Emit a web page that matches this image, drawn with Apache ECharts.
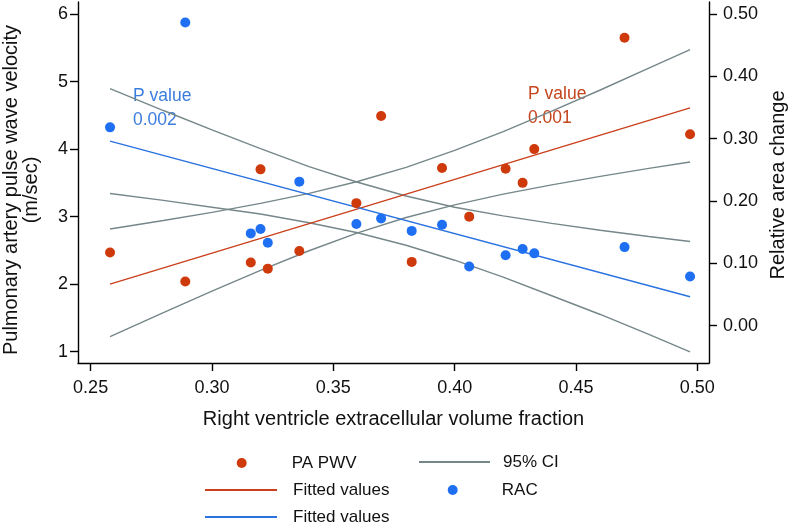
<!DOCTYPE html>
<html>
<head>
<meta charset="utf-8">
<script src="https://cdn.jsdelivr.net/npm/echarts@6/dist/echarts.min.js"></script>
<style>html,body{margin:0;padding:0;background:#fff}#c{width:792px;height:527px}</style>
</head>
<body>
<div id="c"></div>
<script>
// ---- data ----
const ecvFraction = [0.258, 0.289, 0.316, 0.320, 0.323, 0.336, 0.3595, 0.3697, 0.3823, 0.3948, 0.406, 0.421, 0.428, 0.4328, 0.470, 0.497];
const paPwv = [2.47, 2.04, 2.32, 3.70, 2.23, 2.49, 3.20, 4.49, 2.33, 3.72, 3.00, 3.71, 3.50, 4.00, 5.65, 4.22];
const rac = [0.318, 0.486, 0.148, 0.155, 0.133, 0.231, 0.163, 0.172, 0.152, 0.162, 0.095, 0.113, 0.123, 0.116, 0.126, 0.079];

const fitX = [0.258, 0.497];
const pwvFit = [2.00, 4.61];
const racFit = [0.296, 0.0465];

const ciX = [0.258, 0.28, 0.30, 0.32, 0.34, 0.36, 0.38, 0.40, 0.42, 0.44, 0.46, 0.48, 0.497];
const pwvCiUpper = [2.817, 2.943, 3.064, 3.196, 3.345, 3.520, 3.730, 3.980, 4.260, 4.561, 4.875, 5.198, 5.474];
const pwvCiLower = [1.224, 1.580, 1.897, 2.204, 2.495, 2.759, 2.987, 3.175, 3.333, 3.471, 3.596, 3.714, 3.810];
const racCiUpper = [0.380, 0.345, 0.314, 0.284, 0.255, 0.230, 0.208, 0.190, 0.176, 0.164, 0.153, 0.143, 0.135];
const racCiLower = [0.212, 0.201, 0.190, 0.179, 0.165, 0.149, 0.129, 0.105, 0.078, 0.048, 0.018, -0.014, -0.042];

const xTicks = [0.25, 0.30, 0.35, 0.40, 0.45, 0.50];
const leftTicks = [1, 2, 3, 4, 5, 6];
const rightTicks = [0.00, 0.10, 0.20, 0.30, 0.40, 0.50];

// ---- styling ----
const RED = '#cf3a0c', BLUE = '#1f6ff2', GRAY = '#76878a';
const RED_LINE = '#c9401a', BLUE_LINE = '#2a72e0';
const FONT = '"Liberation Sans", Arial, Helvetica, sans-serif';
const pair = (xs, ys) => xs.map((x, i) => [x, ys[i]]);

const axisLineStyle = { color: '#000', width: 1.4 };
function valueAxis(extra) {
  return Object.assign({
    type: 'value',
    splitLine: { show: false },
    axisLine: { show: true, onZero: false, lineStyle: axisLineStyle }
  }, extra);
}
function ticks(values) {
  return { show: true, length: 8, lineStyle: axisLineStyle, customValues: values };
}
function labels(values, margin, fmt) {
  return { color: '#111', fontSize: 18, fontFamily: FONT, margin, customValues: values, formatter: fmt };
}

const chart = echarts.init(document.getElementById('c'), null, { renderer: 'canvas' });

function lineSeries(name, data, color, yIdx) {
  return { name, type: 'line', yAxisIndex: yIdx, data, symbol: 'none', showSymbol: false,
    lineStyle: { color, width: 1.4 }, itemStyle: { color }, z: 2, silent: true };
}
function legendOne(name, left, top, w, pad, isLine) {
  const lg = { data: [name], left, top, padding: 0, itemGap: 0, itemWidth: w, itemHeight: 10,
    selectedMode: false, formatter: n => n.trim(),
    textStyle: { color: '#111', fontSize: 17, fontFamily: FONT, lineHeight: 20, padding: [0, 0, 0, pad] } };
  if (isLine) lg.itemStyle = { opacity: 0 };
  return lg;
}

chart.setOption({
  animation: false,
  backgroundColor: '#fff',
  grid: { left: 78, right: 83, top: 2, bottom: 164, containLabel: false, outerBoundsMode: 'none' },
  xAxis: valueAxis({
    min: 0.2448, max: 0.5048,
    axisTick: ticks(xTicks),
    axisLabel: labels(xTicks, 16.5, v => v.toFixed(2))
  }),
  yAxis: [
    valueAxis({ position: 'left', min: 0.833, max: 6.178,
      axisTick: ticks(leftTicks), axisLabel: labels(leftTicks, 10, v => String(v)) }),
    valueAxis({ position: 'right', min: -0.0598, max: 0.519,
      axisTick: ticks(rightTicks), axisLabel: labels(rightTicks, 14, v => v.toFixed(2)) })
  ],
  legend: [
    legendOne('PA PWV', 236.7, 453, 72, 9, false),
    legendOne('Fitted values', 204, 480, 72, 11, true),
    legendOne('Fitted values ', 204, 507, 72, 11, true),
    legendOne('95% CI', 418, 452, 71, 8, true),
    legendOne('RAC', 447.7, 480, 71, 8.6, false)
  ],
  series: [
    lineSeries('95% CI', pair(ciX, pwvCiUpper), GRAY, 0),
    lineSeries('95% CI', pair(ciX, pwvCiLower), GRAY, 0),
    lineSeries('95% CI', pair(ciX, racCiUpper), GRAY, 1),
    lineSeries('95% CI', pair(ciX, racCiLower), GRAY, 1),
    lineSeries('Fitted values', pair(fitX, pwvFit), RED_LINE, 0),
    lineSeries('Fitted values ', pair(fitX, racFit), BLUE_LINE, 1),
    { name: 'PA PWV', type: 'scatter', yAxisIndex: 0, data: pair(ecvFraction, paPwv), symbol: 'circle', symbolSize: 10,
      itemStyle: { color: RED, opacity: 1 }, z: 3 },
    { name: 'RAC', type: 'scatter', yAxisIndex: 1, data: pair(ecvFraction, rac), symbol: 'circle', symbolSize: 10,
      itemStyle: { color: BLUE, opacity: 1 }, z: 3 }
  ],
  graphic: [
    { type: 'text', x: 21, y: 190, rotation: Math.PI / 2, z: 1,
      style: { text: 'Pulmonary artery pulse wave velocity\n(m/sec)', fontSize: 20, lineHeight: 20, fontFamily: FONT, fill: '#111', align: 'center', verticalAlign: 'middle' } },
    { type: 'text', x: 778, y: 185, rotation: Math.PI / 2, z: 1,
      style: { text: 'Relative area change', fontSize: 20, fontFamily: FONT, fill: '#111', align: 'center', verticalAlign: 'middle' } },
    { type: 'text', x: 393.5, y: 419, z: 1,
      style: { text: 'Right ventricle extracellular volume fraction', fontSize: 20, fontFamily: FONT, fill: '#111', align: 'center', verticalAlign: 'middle' } },
    { type: 'text', x: 133, y: 84, z: 0,
      style: { text: 'P value\n0.002', fontSize: 17.5, lineHeight: 24, fontFamily: FONT, fill: '#3b7ddd', align: 'left', verticalAlign: 'top' } },
    { type: 'text', x: 528, y: 82, z: 0,
      style: { text: 'P value\n0.001', fontSize: 17.5, lineHeight: 24, fontFamily: FONT, fill: '#c4441c', align: 'left', verticalAlign: 'top' } }
  ]
});
</script>
</body>
</html>
